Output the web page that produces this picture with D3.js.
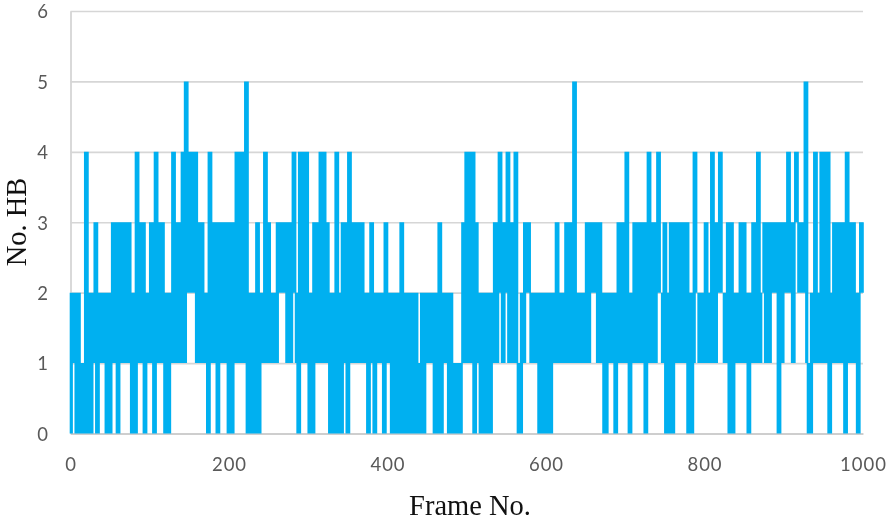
<!DOCTYPE html>
<html>
<head>
<meta charset="utf-8">
<script src="https://cdn.jsdelivr.net/npm/d3@7"></script>
<style>
html,body{margin:0;padding:0;background:#fff;overflow:hidden}
svg{display:block;filter:blur(0.35px)}
</style>
</head>
<body>
<svg id="chart" width="890" height="521"></svg>
<script>
const frameStep = 2;
const hbFrames000 = [0,2,1,2,0,2,0,1,0,1,4,0,2,0,2,1,3,0,2,1,2,1,2,0,2,0,2,3,1,3,0,3,1,3,1,3,1,3,2,0,2,0,4,1,3,1,3,0,2,1];
const hbFrames100 = [2,3,1,0,4,1,3,1,3,2,0,2,0,2,1,4,1,3,3,1,2,4,1,5,2,4,2,4,2,4,1,3,1,3,1,2,1,0,4,1,3,1,3,0,3,1,3,1,3,1];
const hbFrames200 = [0,3,0,3,1,4,1,4,1,4,1,5,0,2,0,2,0,1,3,0,2,1,2,4,1,3,1,2,1,2,1,3,2,3,2,3,2,1,3,1,2,4,2,1,0,4,1,4,1,4];
const hbFrames300 = [1,0,2,0,3,1,3,1,4,1,4,1,3,1,0,2,0,2,4,0,2,0,3,1,3,0,4,2,1,3,1,3,1,3,3,1,2,2,0,1,3,1,0,2,1,2,1,2,0,3];
const hbFrames400 = [1,2,1,0,2,0,2,0,1,3,0,2,0,2,0,2,0,1,2,0,1,0,2,0,2,1,2,1,2,1,0,2,0,3,0,2,1,2,1,0,2,0,1,1,0,1,0,1,3,1];
const hbFrames500 = [4,1,4,1,4,0,3,1,2,0,2,0,2,0,2,0,2,1,3,1,2,4,2,1,3,2,4,1,2,3,1,4,1,0,0,2,1,3,2,3,2,1,2,1,2,1,0,2,0,2];
const hbFrames600 = [0,2,1,0,2,1,2,3,1,2,1,2,1,3,1,3,1,2,5,1,2,1,2,1,2,1,3,1,3,2,3,2,3,1,3,1,2,0,0,2,1,2,1,2,0,2,3,1,3,1];
const hbFrames700 = [1,4,1,0,2,1,3,1,3,3,1,2,3,0,1,4,1,2,3,1,2,4,2,2,1,3,0,2,0,3,0,3,1,3,1,3,1,3,1,3,0,2,0,1,4,2,2,1,2,1];
const hbFrames800 = [2,3,1,2,1,4,1,1,3,2,4,2,2,1,2,3,0,3,0,2,1,2,1,3,1,3,1,2,0,2,1,3,1,2,4,1,2,2,3,1,3,1,3,2,3,2,3,0,3,1];
const hbFrames900 = [3,2,2,4,2,3,1,3,4,3,2,3,2,3,5,1,0,0,2,1,4,1,2,1,4,1,4,1,4,0,2,1,3,1,3,1,3,3,1,0,4,1,3,1,3,1,2,0,2,3,2];
const xTickValues = [0,200,400,600,800,1000];
const yTickValues = [0,1,2,3,4,5,6];
const xTitle = "Frame No.";
const yTitle = "No. HB";

const hbValues = [].concat(hbFrames000,hbFrames100,hbFrames200,hbFrames300,hbFrames400,
                           hbFrames500,hbFrames600,hbFrames700,hbFrames800,hbFrames900);

const svg = d3.select("#chart");
const x = d3.scaleLinear().domain([0,1000]).range([70.5,863]);
const y = d3.scaleLinear().domain([0,6]).range([433.5,11]);

const tickStyle = sel => sel.attr("fill","#595959").style("font-family","Lato")
  .style("font-size","18.5px").style("letter-spacing","1px");

const yAxis = d3.axisLeft(y).tickValues(yTickValues).tickSize(0).tickPadding(21.5).tickFormat(d3.format("d"));
const yG = svg.append("g").attr("transform","translate(70.5,0)").call(yAxis);
yG.select(".domain").attr("stroke","#d0d0d0").attr("stroke-width",1.6);
yG.selectAll("text").attr("dy","6.9px").call(tickStyle);
yG.selectAll(".tick").append("line")
  .attr("x1",0).attr("x2",x(1000)-x(0))
  .attr("stroke","#d6d6d6").attr("stroke-width",1.6);

const xAxis = d3.axisBottom(x).tickValues(xTickValues).tickSize(0).tickPadding(24.4).tickFormat(d3.format("d"));
const xG = svg.append("g").attr("transform","translate(0,433.5)").call(xAxis);
xG.select(".domain").attr("stroke","#c8c8c8").attr("stroke-width",1.6);
xG.selectAll("text").call(tickStyle);

// Series: each change between two samples is one near-vertical stroke,
// which keeps the flat tops the dense 1000-frame line has in the picture.
const seriesPath = d3.path();
hbValues.forEach((v,i) => {
  if (i === hbValues.length-1) return;
  const next = hbValues[i+1];
  if (v === next) return;
  const xm = x((i+0.5)*frameStep);
  seriesPath.moveTo(xm,y(v));
  seriesPath.lineTo(xm,y(next));
});
svg.append("path")
  .attr("d",seriesPath.toString()).attr("fill","none")
  .attr("stroke","#00b0f0").attr("stroke-width",3.2)
  .attr("stroke-linecap","butt");

// Titles
svg.append("text").attr("x",470).attr("y",514.5).attr("text-anchor","middle")
  .style("font-family","'Liberation Serif'").style("font-size","28.5px").attr("fill","#111").text(xTitle);
svg.append("text").attr("transform","translate(25.5,222) rotate(-90)").attr("text-anchor","middle")
  .style("font-family","'Liberation Serif'").style("font-size","28.5px").attr("fill","#111").text(yTitle);
</script>
</body>
</html>
